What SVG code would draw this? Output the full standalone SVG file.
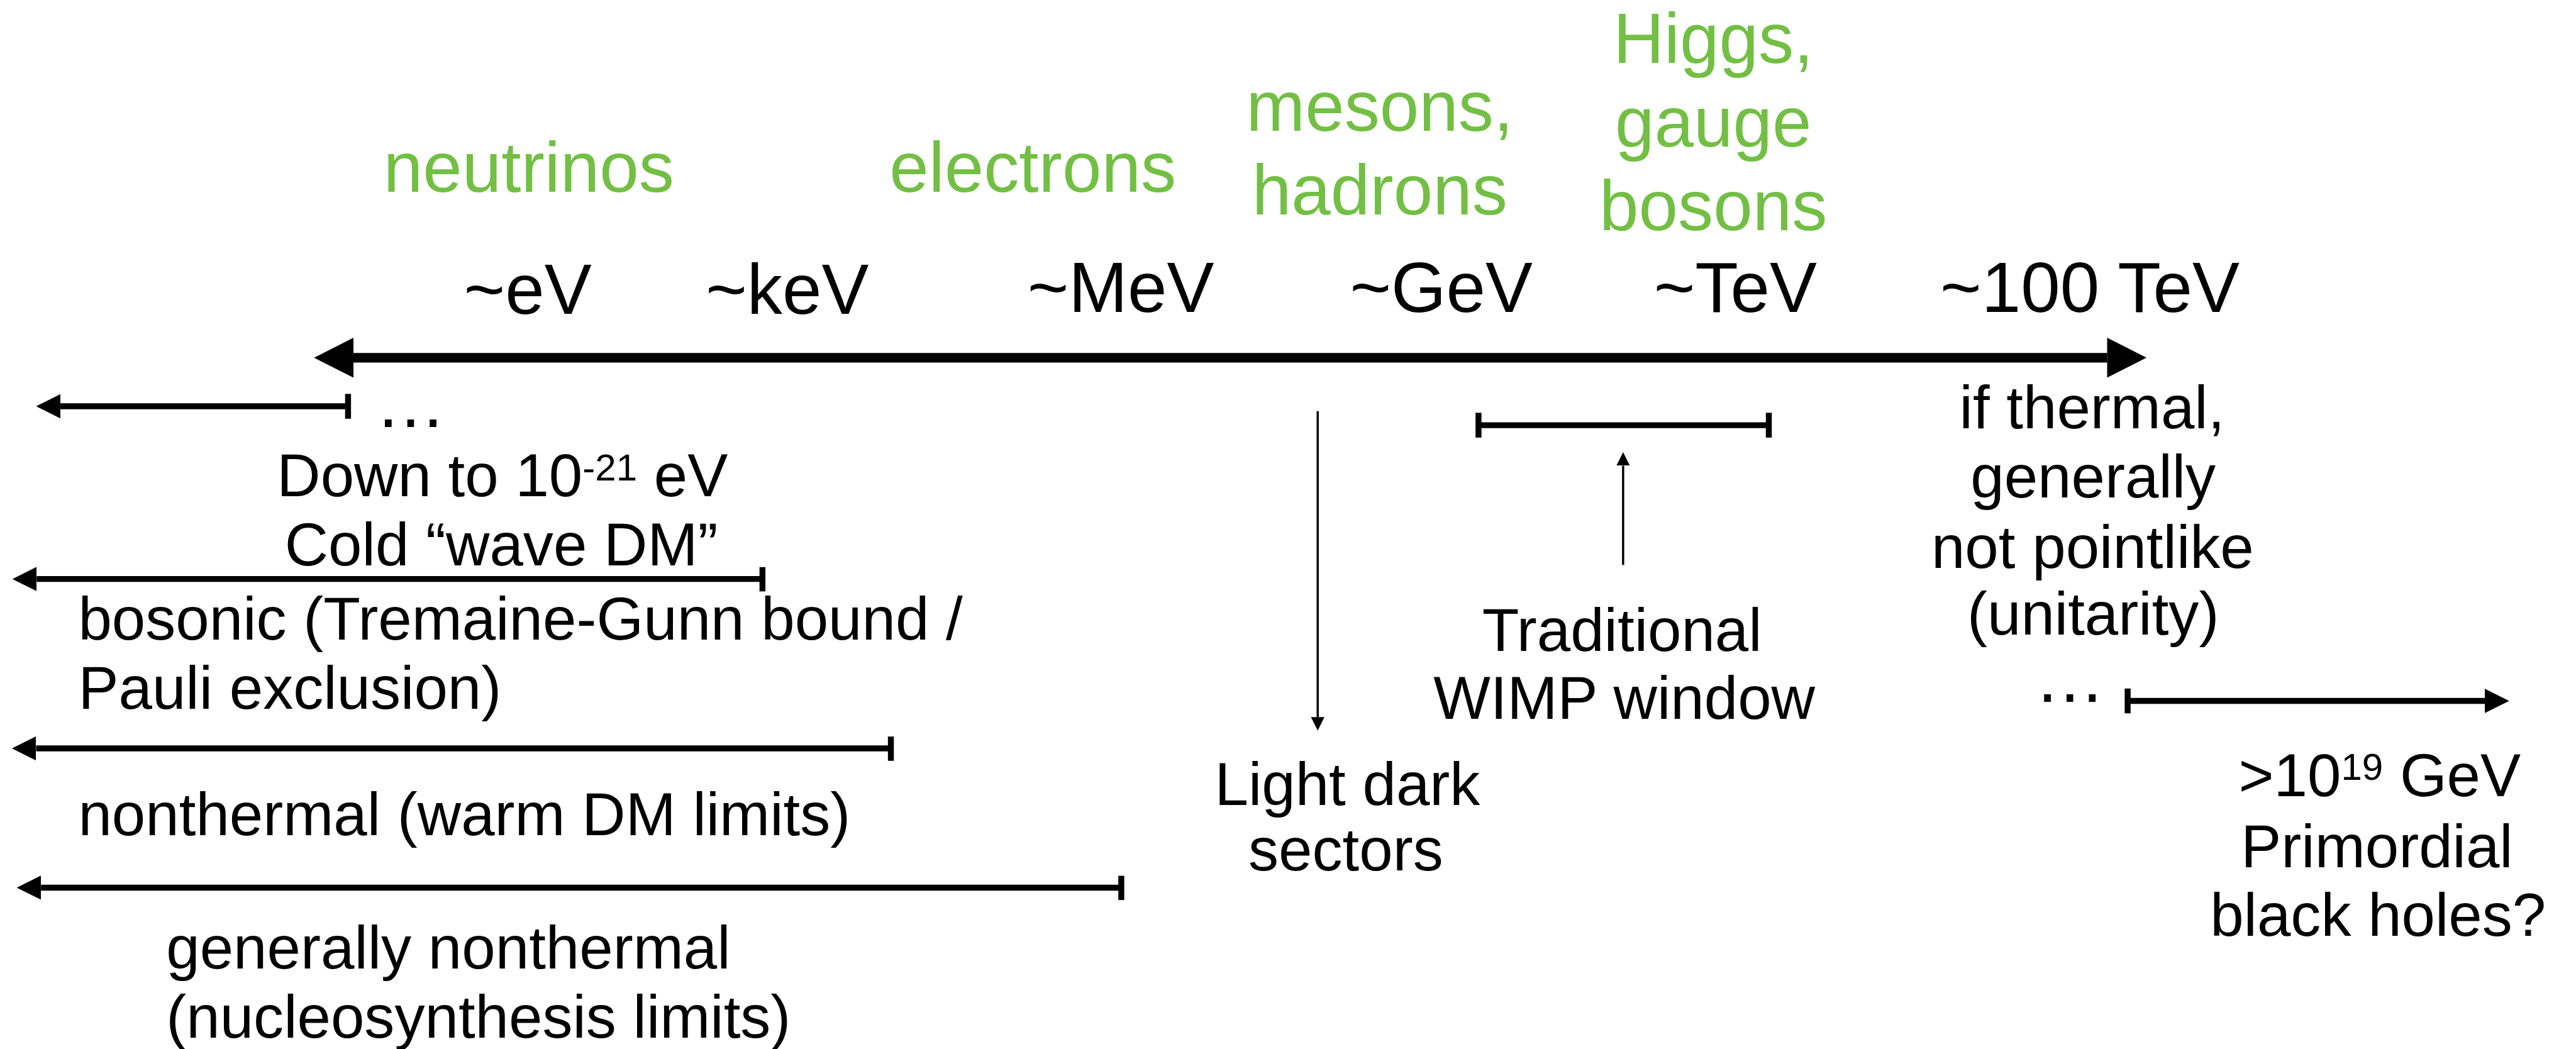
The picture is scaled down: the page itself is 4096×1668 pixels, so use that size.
<svg xmlns="http://www.w3.org/2000/svg" width="4096" height="1668" viewBox="0 0 4096 1668">
<style>
text{font-family:"Liberation Sans",Arial,sans-serif;}
.ax{font-size:131px;fill:#000;text-anchor:middle;}
.gr{font-size:131px;fill:#72bf44;text-anchor:middle;}
.lb{font-size:112px;fill:#000;}
.mid{text-anchor:middle;}
.ell{font-size:131px;fill:#000;text-anchor:middle;}
.main{stroke:#000;stroke-width:18;fill:none;}
.med{stroke:#000;stroke-width:11;fill:none;}
.thin{stroke:#000;stroke-width:4;fill:none;}
</style>
<defs>
<marker id="bigHead" markerUnits="userSpaceOnUse" markerWidth="74" markerHeight="74" refX="0" refY="37" orient="auto-start-reverse" viewBox="0 0 74 74"><path d="M0,0 L73,37 L0,74 z" fill="#000"/></marker>
<marker id="medHead" markerUnits="userSpaceOnUse" markerWidth="46" markerHeight="46" refX="0" refY="22.5" orient="auto-start-reverse" viewBox="0 0 46 46"><path d="M0,0 L45,22.5 L0,45 z" fill="#000"/></marker>
<marker id="smallHead" markerUnits="userSpaceOnUse" markerWidth="26" markerHeight="26" refX="0" refY="12.5" orient="auto" viewBox="0 0 26 26"><path d="M0,0 L25,12.5 L0,25 z" fill="#000"/></marker>
</defs>
<g transform="scale(0.858)">
<g id="connectors">
<line id="axis" class="main" x1="655" y1="663" x2="3905" y2="663" marker-start="url(#bigHead)" marker-end="url(#bigHead)"/>
<g id="range-wave">
<line class="med" x1="645" y1="753" x2="112" y2="753" marker-end="url(#medHead)"/>
<line class="med" x1="645" y1="730" x2="645" y2="776"/>
</g>
<g id="range-bosonic">
<line class="med" x1="1413" y1="1073" x2="68" y2="1073" marker-end="url(#medHead)"/>
<line class="med" x1="1413" y1="1051" x2="1413" y2="1096"/>
</g>
<g id="range-warm">
<line class="med" x1="1651" y1="1387" x2="67" y2="1387" marker-end="url(#medHead)"/>
<line class="med" x1="1651" y1="1365" x2="1651" y2="1410"/>
</g>
<g id="range-bbn">
<line class="med" x1="2078" y1="1645" x2="76" y2="1645" marker-end="url(#medHead)"/>
<line class="med" x1="2078" y1="1623" x2="2078" y2="1668"/>
</g>
<g id="range-pbh">
<line class="med" x1="3943" y1="1299" x2="4605" y2="1299" marker-end="url(#medHead)"/>
<line class="med" x1="3943" y1="1276" x2="3943" y2="1322"/>
</g>
<g id="wimp-bar">
<line class="med" x1="2740" y1="788" x2="3278" y2="788"/>
<line class="med" x1="2740" y1="765" x2="2740" y2="811"/>
<line class="med" x1="3278" y1="765" x2="3278" y2="811"/>
</g>
<line id="wimp-pointer" class="thin" x1="3008" y1="1047" x2="3008" y2="863" marker-end="url(#smallHead)"/>
<line id="light-pointer" class="thin" x1="2442" y1="762" x2="2442" y2="1329" marker-end="url(#smallHead)"/>
</g>
<g id="axis-labels">
<text class="ax" x="978" y="582">~eV</text>
<text class="ax" x="1459" y="582">~keV</text>
<text class="ax" x="2077" y="578">~MeV</text>
<text class="ax" x="2671" y="578">~GeV</text>
<text class="ax" x="3216" y="578">~TeV</text>
<text class="ax" x="3873" y="578">~100 TeV</text>
</g>
<g id="particles">
<text class="gr" x="980" y="355">neutrinos</text>
<text class="gr" x="1914" y="355">electrons</text>
<text class="gr" x="2557" y="243">mesons,</text>
<text class="gr" x="2557" y="397">hadrons</text>
<text class="gr" x="3175" y="117">Higgs,</text>
<text class="gr" x="3175" y="272">gauge</text>
<text class="gr" x="3175" y="426">bosons</text>
</g>
<g id="node-wave">
<text class="ell" x="761" y="791">…</text>
<text class="lb mid" x="931" y="920">Down to 10<tspan font-size="70" dy="-30">-21</tspan><tspan dy="30"> eV</tspan></text>
<text class="lb mid" x="929" y="1048">Cold “wave DM”</text>
</g>
<g id="node-bosonic">
<text class="lb" x="145" y="1185">bosonic (Tremaine-Gunn bound /</text>
<text class="lb" x="145" y="1313">Pauli exclusion)</text>
</g>
<g id="node-warm">
<text class="lb" x="145" y="1548">nonthermal (warm DM limits)</text>
</g>
<g id="node-bbn">
<text class="lb" x="308" y="1795">generally nonthermal</text>
<text class="lb" x="308" y="1923">(nucleosynthesis limits)</text>
</g>
<g id="node-light">
<text class="lb mid" x="2497" y="1492">Light dark</text>
<text class="lb mid" x="2494" y="1613">sectors</text>
</g>
<g id="node-wimp">
<text class="lb mid" x="3006" y="1206">Traditional</text>
<text class="lb mid" x="3010" y="1332">WIMP window</text>
</g>
<g id="node-thermal">
<text class="lb mid" x="3877" y="794">if thermal,</text>
<text class="lb mid" x="3879" y="922">generally</text>
<text class="lb mid" x="3878" y="1052">not pointlike</text>
<text class="lb mid" x="3879" y="1176">(unitarity)</text>
</g>
<g id="node-pbh">
<text class="ell" x="3836" y="1301">…</text>
<text class="lb mid" x="4410" y="1475">&gt;10<tspan font-size="70" dy="-30">19</tspan><tspan dy="30"> GeV</tspan></text>
<text class="lb mid" x="4405" y="1607">Primordial</text>
<text class="lb mid" x="4407" y="1734">black holes?</text>
</g>
</g>
</svg>
